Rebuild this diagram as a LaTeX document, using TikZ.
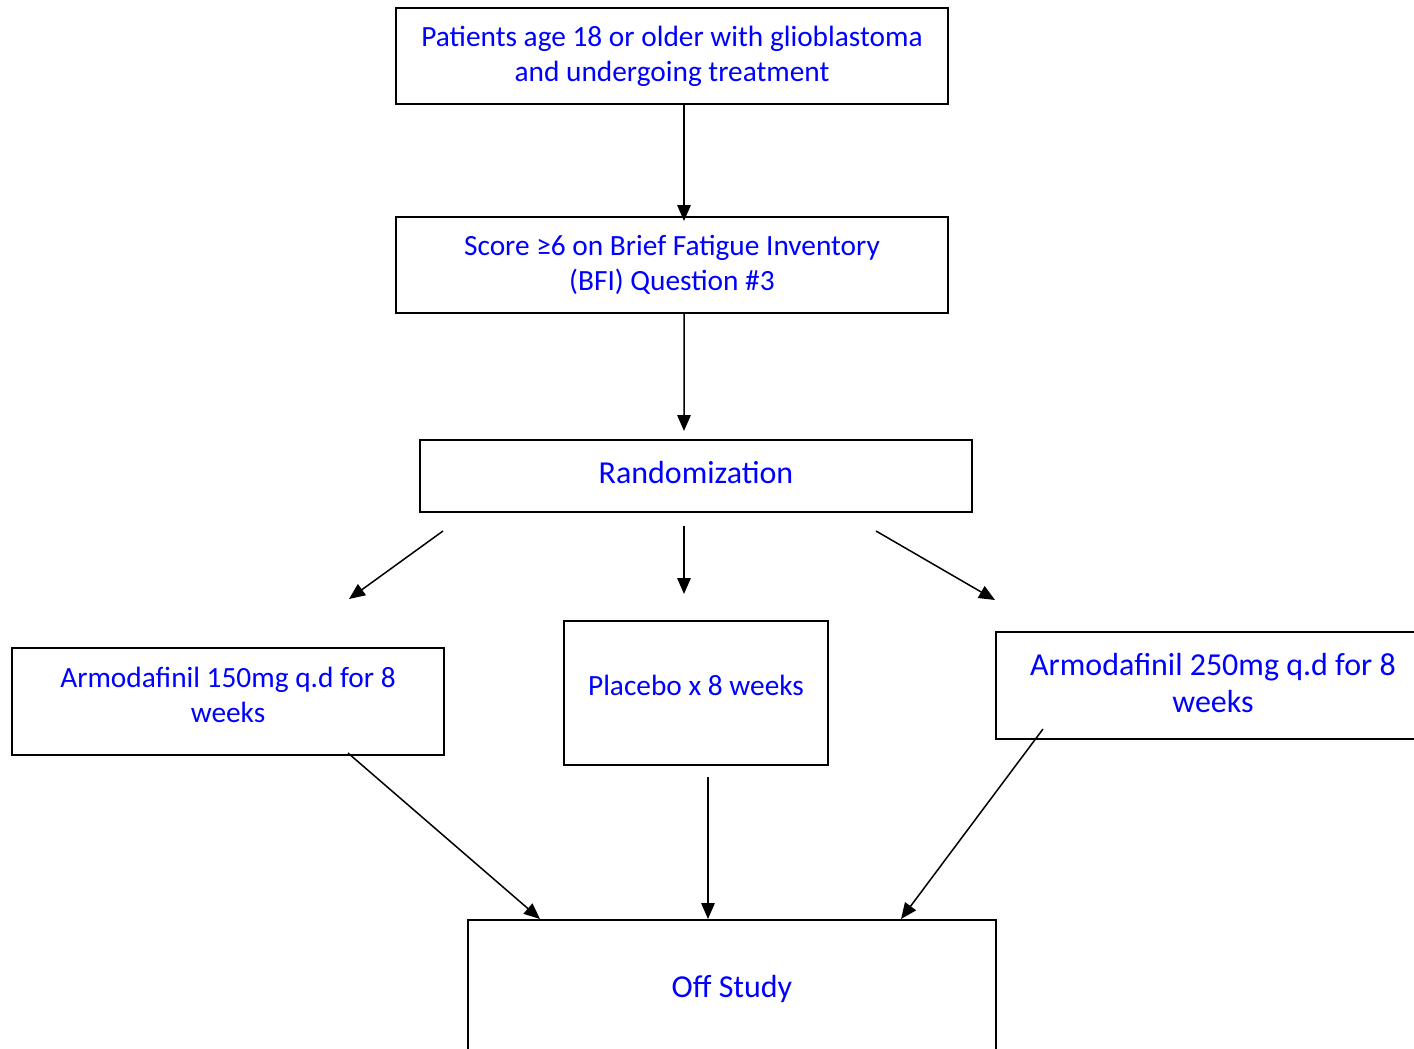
\documentclass[tikz,border=0pt]{standalone}
\usepackage{fontspec}
\setmainfont{Carlito}
\usetikzlibrary{arrows.meta,calc}
\tikzstyle{stepBox}=[draw, line width=0.04cm, align=center, text=blue, inner sep=0pt, font=\fontsize{16.7}{20}\selectfont]
\tikzstyle{bigBox}=[stepBox, font=\fontsize{18.2}{21}\selectfont]
\tikzstyle{flow}=[->, line width=0.03cm]

\begin{document}
\begin{tikzpicture}[>={Triangle[length=0.32cm, width=0.27cm]}]
\useasboundingbox (0,0) rectangle (28.28,-20.98);
\node (topBox) [stepBox, minimum width=11.04cm, minimum height=1.92cm] at (13.44,-1.12) {Patients age 18 or older with glioblastoma\\ and undergoing treatment};
\path (topBox.center)+(0,-4.18) node (scoreBox) [stepBox, minimum width=11.04cm, minimum height=1.92cm] {Score ≥6 on Brief Fatigue Inventory\\ (BFI) Question \#3};
\path (scoreBox.center)+(0.48,-4.22) node (randBox) [bigBox, minimum width=11.04cm, minimum height=1.44cm, text depth=0.16cm] {Randomization};
\path (randBox.center)+(-9.36,-4.51) node (lowDose) [stepBox, minimum width=8.64cm, minimum height=2.14cm, text depth=0.28cm] {Armodafinil 150mg q.d for 8\\ weeks};
\path (randBox.center)+(0,-4.34) node (placebo) [stepBox, minimum width=5.28cm, minimum height=2.88cm, text depth=0.32cm] {Placebo x 8 weeks};
\path (randBox.center)+(10.34,-4.19) node (highDose) [bigBox, minimum width=8.68cm, minimum height=2.14cm, text depth=0.12cm] {Armodafinil 250mg q.d for 8\\ weeks};
\path (placebo.center)+(0.72,-5.92) node (offStudy) [bigBox, minimum width=10.56cm, minimum height=2.76cm] {Off Study};

% free ends of the arrows
\coordinate (randL) at ([shift={(0.48,-0.36)}]randBox.south west);
\coordinate (randM) at ([shift={(-0.24,-0.26)}]randBox.south);
\coordinate (randR) at ([shift={(3.6,-0.36)}]randBox.south);
\coordinate (lowIn) at ([shift={(2.42,0.96)}]lowDose.north);
\coordinate (placeboIn) at ([shift={(-0.24,0.52)}]placebo.north);
\coordinate (highIn) at ([shift={(0,0.62)}]highDose.north west);
\coordinate (lowOut) at ([shift={(2.4,0.06)}]lowDose.south);
\coordinate (placeboOut) at ([shift={(0.24,-0.22)}]placebo.south);
\coordinate (highOut) at ([shift={(0.96,0.22)}]highDose.south west);

\draw[flow] ([xshift=0.24cm]topBox.south) -- ([xshift=0.24cm,yshift=-0.1cm]scoreBox.north);
\draw[flow] ([xshift=0.24cm]scoreBox.south) -- ([xshift=-0.24cm,yshift=0.16cm]randBox.north);
\draw[flow] (randL) -- (lowIn);
\draw[flow] (randM) -- (placeboIn);
\draw[flow] (randR) -- (highIn);
\draw[flow] (lowOut) -- ([xshift=-3.84cm]offStudy.north);
\draw[flow] (placeboOut) -- ([xshift=-0.48cm]offStudy.north);
\draw[flow] (highOut) -- ([xshift=3.38cm]offStudy.north);
\end{tikzpicture}
\end{document}
